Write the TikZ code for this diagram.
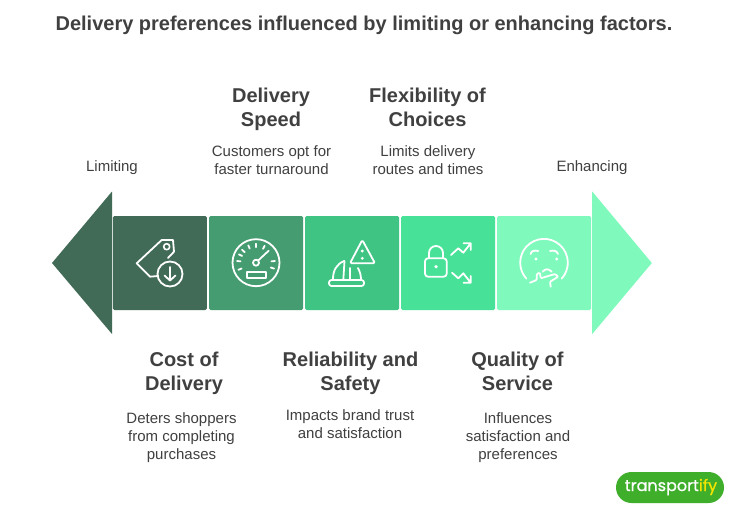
\documentclass[tikz,border=0pt]{standalone}
\usepackage{fontspec}
\setmainfont{Liberation Sans}
\newfontfamily\logofont[FakeBold=0.8]{Poppins}
\definecolor{txt}{HTML}{404040}
\definecolor{cA}{HTML}{426B57}
\definecolor{cB}{HTML}{459C70}
\definecolor{cC}{HTML}{3FC483}
\definecolor{cD}{HTML}{47E298}
\definecolor{cE}{HTML}{7FF9BC}
\definecolor{logog}{HTML}{3FAE2A}
\definecolor{logoy}{HTML}{F2E500}
\tikzset{
 stagebox/.style={fill=#1,rounded corners=1.5pt,draw=none},
 headtxt/.style={font=\fontsize{20}{24}\selectfont\bfseries,text=txt,align=center,inner sep=0pt},
 desctxt/.style={font=\fontsize{15}{18}\selectfont,text=txt,align=center,inner sep=0pt},
 ico/.style={draw=white,line width=1.8pt,line cap=round,line join=round},
}
\begin{document}
\begin{tikzpicture}[x=1pt,y=-1pt]
\useasboundingbox (0,0) rectangle (730,508);
\fill[white] (0,0) rectangle (730,508);
\node[font=\fontsize{20}{24}\selectfont\bfseries,text=txt,inner sep=0pt] (title) at (364,25.5) {Delivery preferences influenced by limiting or enhancing factors.};
% arrows
\fill[cA] (52,263) -- (112,191.5) -- (112,334) -- cycle;
\fill[cE] (651.8,263) -- (592.2,191.5) -- (592.2,334) -- cycle;
% boxes
\fill[stagebox=cA] (112.8,216) rectangle (206.8,310);
\fill[stagebox=cB] (209,216) rectangle (303,310);
\fill[stagebox=cC] (305,216) rectangle (399,310);
\fill[stagebox=cD] (401,216) rectangle (495,310);
\fill[stagebox=cE] (497,216) rectangle (591,310);
% labels
\node[desctxt] (lim) at (112,168) {Limiting};
\node[desctxt] (enh) at (592,168) {Enhancing};
\node[headtxt] (h2) at (271,109) {Delivery\\Speed};
\node[desctxt] (d2) at (271.5,160) {Customers opt for\\faster turnaround};
\node[headtxt] (h4) at (427.5,107) {Flexibility of\\Choices};
\node[desctxt] (d4) at (428,160) {Limits delivery\\routes and times};
\node[headtxt] (h1) at (184,373) {Cost of\\Delivery};
\node[desctxt] (d1) at (181.5,438) {Deters shoppers\\from completing\\purchases};
\node[headtxt] (h3) at (350.5,373) {Reliability and\\Safety};
\node[desctxt] (d3) at (350,424) {Impacts brand trust\\and satisfaction};
\node[headtxt] (h5) at (517.5,371) {Quality of\\Service};
\node[desctxt] (d5) at (518,438) {Influences\\satisfaction and\\preferences};
% icon 1: tag
\draw[ico] (158,276) -- (150,276.7) -- (136.7,263.3) -- (161.7,240) -- (173,240) -- (174,251.7) -- (168,258);
\draw[ico,line width=1.6pt] (166.7,246.7) circle (3);
\draw[ico] (170,274) circle (12.5);
\draw[ico] (170,267) -- (170,280.5) (164.5,275.5) -- (170,280.5) -- (175.5,275.5);
% icon 2: gauge
\draw[ico] (256,262.7) circle (23.5);
\draw[ico] (256,262.7) circle (3);
\draw[ico] (258.2,260.5) -- (268.7,250.7);
\draw[ico] (247,271.7) rectangle (266,278.3);
\foreach \a in {18,-5,-63,-90,-114,-137,-154,-175,158}{
  \draw[ico] (256,262.7) ++(\a:15.5) -- ++(\a:3.5);
}
% icon 3: helmet + warning
\draw[ico,rounded corners=1.5pt] (362.3,240) -- (375,263.3) -- (350,263.3) -- cycle;
\fill[white] (362.3,251) circle (1.6) (362.3,258.3) circle (1.6);
\draw[ico,rounded corners=2.5pt] (329,280) rectangle (364,286);
\draw[ico] (333,279) .. controls (333,270) and (337,264) .. (344,261);
\draw[ico] (344.5,261) -- (343.3,280) (350,268) -- (350,280);
\draw[ico] (358,268) .. controls (360,272) and (361,275) .. (361,280);
% icon 4: lock + arrows
\draw[ico,rounded corners=3pt] (425,258.3) rectangle (446.7,276.7);
\draw[ico] (429,258) -- (429,253) arc[start angle=180,end angle=360,radius=7] -- (443,258);
\fill[white] (436,266.7) circle (1.8);
\draw[ico] (451,255) -- (458.3,248.3) -- (463.3,252.7) -- (470.7,243.3) (463.5,243.3) -- (470.7,243.3) -- (470.7,250);
\draw[ico] (452,272.7) -- (458.3,278.3) -- (463.3,273.3) -- (470.7,282.7) (463.5,282.7) -- (470.7,282.7) -- (470.7,276);
% icon 5: thinking face
\draw[ico] (561.7,278.6) arc[start angle=42,end angle=-222,radius=23.8];
\draw[ico] (530.7,254) .. controls (531,251) and (534,250) .. (538.3,251);
\draw[ico] (550,251) .. controls (554,250) and (557,251) .. (558,254);
\fill[white] (536,259) circle (1.6) (556.7,259) circle (1.6);
\draw[ico] (542.7,271.7) .. controls (545,269) and (548,268) .. (551.7,271.7);
\draw[ico,rounded corners=1pt] (530,282.7) -- (536.7,280) -- (536.7,274) -- (540,272.7) -- (540.7,278.3) -- (555,274) -- (558.3,276.7) -- (550,281.7) -- (550.7,286.7);
% logo
\fill[logog,rounded corners=15.5pt] (616,472) rectangle (724,503);
\node[font=\logofont\fontsize{16}{18}\selectfont,text=white,inner sep=0pt] (logo) at (671,487) {transport\textcolor{logoy}{ify}};
\end{tikzpicture}
\end{document}
